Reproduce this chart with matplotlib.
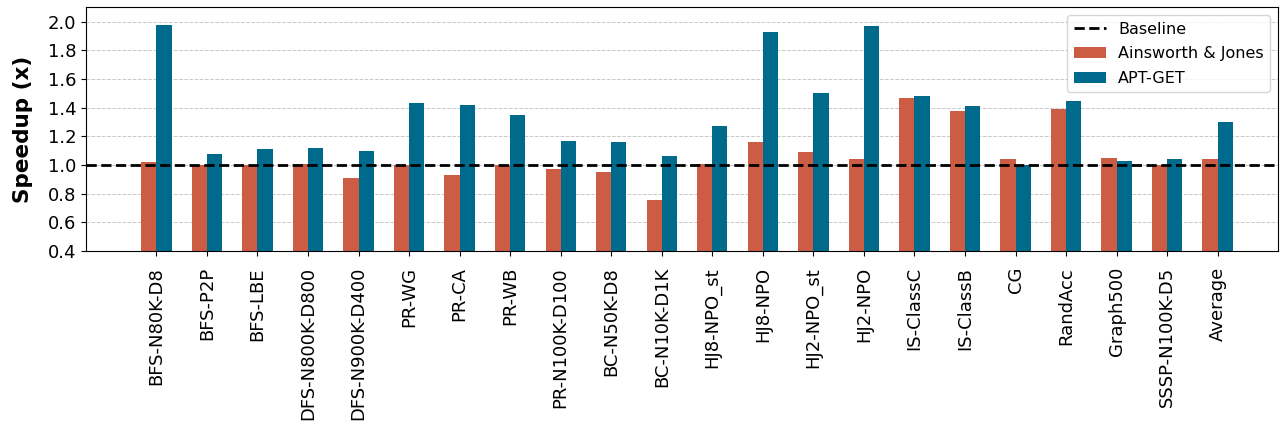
import numpy as np
import matplotlib
matplotlib.use('Agg')
import matplotlib.pyplot as plt

# benchmark names
benchmarks = ['BFS-N80K-D8', 'BFS-P2P', 'BFS-LBE', 'DFS-N800K-D800', 'DFS-N900K-D400',
              'PR-WG', 'PR-CA', 'PR-WB', 'PR-N100K-D100', 'BC-N50K-D8', 'BC-N10K-D1K',
              'HJ8-NPO_st', 'HJ8-NPO', 'HJ2-NPO_st', 'HJ2-NPO', 'IS-ClassC', 'IS-ClassB',
              'CG', 'RandAcc', 'Graph500', 'SSSP-N100K-D5', 'Average']

# speedups
ainsworth = [1.02, 1.00, 1.00, 1.01, 0.91, 1.00, 0.93, 1.00, 0.97, 0.95, 0.76,
             1.01, 1.16, 1.09, 1.04, 1.47, 1.38, 1.04, 1.39, 1.05, 1.00, 1.04]
aptget = [1.98, 1.08, 1.11, 1.12, 1.10, 1.43, 1.42, 1.35, 1.17, 1.16, 1.06,
          1.27, 1.93, 1.50, 1.97, 1.48, 1.41, 1.00, 1.45, 1.03, 1.04, 1.30]

red = '#CD5C45'
blue = '#006A8C'

x = np.arange(len(benchmarks))
w = 0.3

fig, ax = plt.subplots(figsize=(12.86, 4.33), dpi=100)

ax.bar(x - w / 2, ainsworth, w, color=red, label='Ainsworth & Jones', zorder=2)
ax.bar(x + w / 2, aptget, w, color=blue, label='APT-GET', zorder=2)
ax.axhline(1.0, color='black', linestyle='--', linewidth=2, label='Baseline', zorder=3)

ax.set_ylim(0.4, 2.1)
ax.set_yticks(np.arange(0.4, 2.01, 0.2))
ax.set_xlim(-1.39, 22.2)
ax.set_xticks(x)
ax.set_xticklabels(benchmarks, rotation=90, fontsize=13)
ax.tick_params(axis='x', pad=8)
ax.tick_params(axis='y', labelsize=13)
ax.set_ylabel('Speedup (x)', fontsize=15.5, fontweight='bold', labelpad=11)
ax.yaxis.grid(True, linestyle='--', color='#c8c8c8', linewidth=0.7, zorder=0)
ax.set_axisbelow(True)

handles, labels = ax.get_legend_handles_labels()
order = [labels.index('Baseline'), labels.index('Ainsworth & Jones'), labels.index('APT-GET')]
ax.legend([handles[i] for i in order], [labels[i] for i in order],
          loc='upper right', fontsize=11.5, labelspacing=0.6)

plt.subplots_adjust(left=0.067, right=0.994, top=0.983, bottom=0.42)
plt.savefig('out.png', dpi=100)
